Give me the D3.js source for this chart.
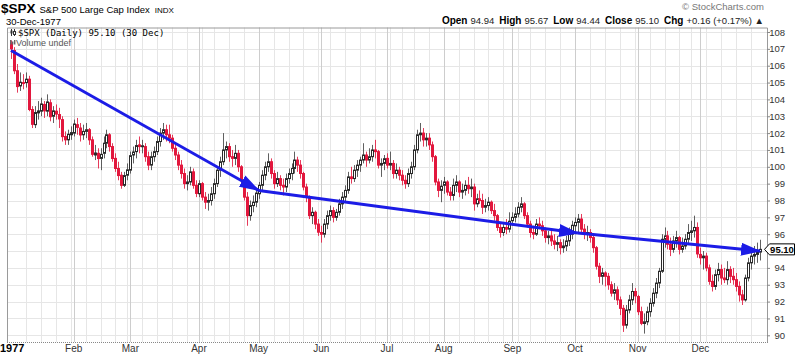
<!DOCTYPE html>
<html>
<head>
<meta charset="utf-8">
<script src="https://cdn.jsdelivr.net/npm/d3@7"></script>
<style>
  body { margin: 0; background: #fff; }
  svg { display: block; font-family: "Liberation Sans", Arial, sans-serif; }
  .y-axis text { font-size: 9.5px; fill: #333; }
  .month { font-family: "Liberation Sans Narrow", "Arial Narrow", "Liberation Sans", sans-serif; font-size: 10px; fill: #333; }
</style>
</head>
<body>
<svg id="chart" width="800" height="354"></svg>
<script>
// $SPX daily bars, 1977: [day, open, high, low, close]
const jan = [
  [3,107.3,107.5,106.4,107.0],[4,106.9,107.1,105.5,105.7],[5,105.7,106.1,104.4,104.76],
  [6,104.8,105.6,104.5,105.02],[7,105.0,105.5,104.6,104.95],[10,105.0,105.6,104.7,105.2],
  [11,105.2,105.4,103.3,103.4],[12,103.4,103.6,102.3,102.52],[13,102.5,103.6,102.3,103.22],
  [14,103.2,103.9,102.8,103.32],[17,103.3,104.1,103.0,103.73],[18,103.7,103.9,102.9,103.32],
  [19,103.3,104.3,103.0,103.85],[20,103.8,104.0,102.7,102.97],[21,103.0,103.6,102.6,103.32],
  [24,103.3,103.7,102.8,103.13],[25,103.1,103.5,102.3,102.84],[26,102.8,103.0,101.5,101.79],
  [27,101.8,102.1,101.3,101.6],[28,101.6,102.2,101.3,101.93],[31,101.9,102.4,101.6,102.03]
];
const feb = [
  [1,102.0,102.8,101.8,102.54],[2,102.5,102.9,101.9,102.34],[3,102.3,102.6,101.5,101.89],
  [4,101.9,102.5,101.6,102.1],[7,102.1,102.6,101.7,102.2],[8,102.2,102.3,101.3,101.6],
  [9,101.6,101.8,100.6,100.74],[10,100.7,101.3,100.4,100.82],[11,100.8,101.1,99.9,100.49],
  [14,100.5,101.1,99.8,100.74],[15,100.8,101.8,100.5,101.4],[16,101.4,102.2,101.1,101.9],
  [17,101.9,102.0,100.9,101.2],[18,101.2,101.4,100.3,100.49],[22,100.5,100.8,99.7,99.9],
  [23,99.9,100.3,99.2,99.48],[24,99.5,99.7,98.7,98.9],[25,98.9,99.7,98.8,99.48],
  [28,99.5,100.2,99.2,99.82]
];
const mar = [
  [1,99.8,100.9,99.6,100.66],[2,100.7,101.2,100.2,100.88],[3,100.9,101.6,100.5,101.26],
  [4,101.3,101.8,100.8,101.2],[7,101.2,101.6,100.8,101.25],[8,101.2,101.4,100.3,100.6],
  [9,100.6,100.9,99.8,100.1],[10,100.1,100.9,99.8,100.6],[11,100.6,101.2,100.3,100.9],
  [14,100.9,101.8,100.7,101.5],[15,101.5,102.3,101.2,102.0],[16,102.0,102.6,101.6,102.2],
  [17,102.2,102.5,101.5,101.9],[18,101.9,102.5,101.4,101.7],[21,101.7,101.9,100.9,101.1],
  [22,101.1,101.4,100.4,100.7],[23,100.7,100.9,99.8,100.1],[24,100.1,100.4,99.3,99.6],
  [25,99.6,99.9,98.7,99.0],[28,99.0,99.5,98.6,99.1],[29,99.1,100.0,98.9,99.7],
  [30,99.7,99.9,98.7,98.9],[31,98.9,99.2,98.2,98.42]
];
const apr = [
  [1,98.4,99.2,98.2,99.0],[4,99.0,99.1,98.0,98.2],[5,98.2,98.5,97.5,97.9],
  [6,97.9,98.4,97.4,98.0],[7,98.0,98.8,97.7,98.4],[11,98.4,99.3,98.1,99.0],
  [12,99.0,100.0,98.8,99.8],[13,99.8,100.6,99.4,100.3],[14,100.3,102.0,100.1,101.0],
  [15,101.0,101.5,100.5,101.2],[18,101.2,101.4,100.3,100.6],[19,100.6,101.0,100.0,100.5],
  [20,100.5,101.3,100.1,100.8],[21,100.8,101.0,99.7,100.0],[22,100.0,100.1,98.9,99.2],
  [25,99.2,99.3,98.0,98.2],[26,98.2,98.5,96.5,97.1],[27,97.1,98.0,96.8,97.7],
  [28,97.7,98.3,97.3,97.9],[29,97.9,98.7,97.6,98.44]
];
const may = [
  [2,98.4,99.1,98.1,98.9],[3,98.9,99.8,98.6,99.5],[4,99.5,100.3,99.2,100.0],
  [5,100.0,100.8,99.7,100.3],[6,100.3,100.5,99.3,99.6],[9,99.6,99.8,98.7,99.0],
  [10,99.0,99.7,98.8,99.3],[11,99.3,99.5,98.6,98.9],[12,98.9,99.3,98.3,98.8],
  [13,98.8,99.6,98.5,99.3],[16,99.3,99.9,99.0,99.6],[17,99.6,100.2,99.2,99.9],
  [18,99.9,100.9,99.6,100.4],[19,100.4,100.6,99.7,100.1],[20,100.1,100.4,99.3,99.6],
  [23,99.6,99.7,98.6,98.8],[24,98.8,99.0,97.9,98.2],[25,98.2,98.3,96.9,97.1],
  [26,97.1,97.6,96.6,97.3],[27,97.3,97.4,96.3,96.6],[31,96.6,96.9,95.9,96.12]
];
const jun = [
  [1,96.1,96.5,95.5,96.0],[2,96.0,96.9,95.8,96.6],[3,96.6,97.4,96.3,97.1],
  [6,97.1,97.7,96.8,97.4],[7,97.4,97.6,96.7,97.0],[8,97.0,97.5,96.8,97.3],
  [9,97.3,98.1,97.1,97.8],[10,97.8,98.5,97.5,98.2],[13,98.2,98.9,97.9,98.6],
  [14,98.6,99.7,98.4,99.4],[15,99.4,100.0,99.0,99.3],[16,99.3,100.1,99.1,99.8],
  [17,99.8,100.4,99.4,100.1],[20,100.1,100.6,99.7,100.4],[21,100.4,101.4,100.2,100.7],
  [22,100.7,100.9,100.0,100.4],[23,100.4,101.1,100.2,100.6],[24,100.6,101.3,100.3,101.0],
  [27,101.0,101.6,100.5,100.9],[28,100.9,101.0,99.9,100.1],[29,100.1,100.5,99.4,100.2],
  [30,100.2,100.7,99.8,100.48]
];
const jul = [
  [1,100.5,100.8,99.9,100.1],[5,100.1,100.9,99.8,100.2],[6,100.2,100.4,99.3,99.6],
  [7,99.6,100.2,99.3,99.8],[8,99.8,100.0,99.2,99.5],[11,99.5,99.8,98.9,99.2],
  [12,99.2,99.5,98.7,99.0],[13,99.0,99.9,98.8,99.6],[15,99.6,100.3,99.3,100.0],
  [18,100.0,101.3,99.8,101.0],[19,101.0,102.2,100.8,101.9],[20,101.9,102.6,101.5,102.0],
  [21,102.0,102.3,101.2,101.6],[22,101.6,102.0,101.2,101.7],[25,101.7,102.0,101.0,101.3],
  [26,101.3,101.5,100.3,100.6],[27,100.6,100.7,98.9,99.1],[28,99.1,99.3,98.2,98.6],
  [29,98.6,99.2,97.9,98.85]
];
const aug = [
  [1,98.9,99.4,98.4,99.1],[2,99.1,99.2,98.3,98.5],[3,98.5,98.8,98.0,98.3],
  [4,98.3,99.3,98.0,98.9],[5,98.9,99.5,98.5,99.1],[8,99.1,99.2,98.2,98.5],
  [9,98.5,99.0,98.1,98.6],[10,98.6,99.2,98.3,98.9],[11,98.9,99.4,98.4,98.7],
  [12,98.7,99.3,98.2,98.8],[15,98.8,99.0,97.4,97.8],[16,97.8,98.4,97.6,98.1],
  [17,98.1,98.6,97.8,98.0],[18,98.0,98.4,97.2,97.6],[19,97.6,98.1,97.3,97.7],
  [22,97.7,98.2,97.4,97.9],[23,97.9,98.0,97.2,97.4],[24,97.4,97.8,96.8,97.1],
  [25,97.1,97.2,96.2,96.4],[26,96.4,96.6,95.8,96.1],[29,96.1,96.7,95.9,96.4],
  [30,96.4,96.9,96.0,96.3],[31,96.3,97.3,96.1,96.77]
];
const sep = [
  [1,96.8,97.3,96.5,97.0],[2,97.0,97.6,96.7,97.2],[6,97.2,97.9,97.0,97.6],
  [7,97.6,98.2,97.3,97.8],[8,97.8,97.9,96.9,97.1],[9,97.1,97.3,96.4,96.6],
  [12,96.6,96.8,95.8,96.1],[13,96.1,96.5,95.7,96.0],[14,96.0,96.9,95.9,96.6],
  [15,96.6,97.0,96.3,96.5],[16,96.5,96.8,95.9,96.2],[19,96.2,96.4,95.5,95.8],
  [20,95.8,96.2,95.4,95.9],[21,95.9,96.3,95.3,95.6],[22,95.6,96.0,95.1,95.4],
  [23,95.4,95.9,95.0,95.5],[26,95.5,95.7,94.8,95.2],[27,95.2,95.7,94.9,95.3],
  [28,95.3,95.9,95.0,95.6],[29,95.6,96.4,95.3,96.0],[30,96.0,96.8,95.7,96.53]
];
const oct = [
  [3,96.5,97.0,96.0,96.7],[4,96.7,97.2,96.1,96.9],[5,96.9,97.2,96.0,96.3],
  [6,96.3,96.6,95.7,96.0],[7,96.0,96.5,95.6,96.1],[10,96.1,96.3,95.5,95.8],
  [11,95.8,96.0,94.9,95.2],[12,95.2,95.3,93.9,94.1],[13,94.1,94.3,93.1,93.5],
  [14,93.5,94.0,93.0,93.7],[17,93.7,93.8,92.9,93.5],[18,93.5,93.7,92.7,93.0],
  [19,93.0,93.2,92.3,92.5],[20,92.5,93.1,92.1,92.7],[21,92.7,92.9,91.8,92.1],
  [24,92.1,92.3,91.2,91.6],[25,91.6,91.8,90.2,90.6],[26,90.6,91.8,90.4,91.5],
  [27,91.5,92.4,91.3,92.1],[28,92.1,93.1,91.8,92.6],[31,92.6,92.8,91.9,92.34]
];
const nov = [
  [1,92.3,92.4,91.2,91.4],[2,91.4,91.7,90.6,90.71],[3,90.7,91.3,90.1,90.8],
  [4,90.8,91.7,90.6,91.4],[7,91.4,92.2,91.1,91.9],[8,91.9,92.8,91.7,92.5],
  [9,92.5,93.4,92.2,93.1],[10,93.1,94.0,92.8,93.8],[11,93.8,96.0,93.7,95.7],
  [14,95.7,96.4,95.2,95.9],[15,95.9,96.2,95.1,95.4],[16,95.4,95.8,94.7,95.1],
  [17,95.1,95.9,94.9,95.6],[18,95.6,96.2,95.2,95.8],[21,95.8,95.9,94.8,95.1],
  [22,95.1,95.8,94.9,95.3],[23,95.3,96.0,95.1,95.7],[25,95.7,96.6,95.4,96.1],
  [28,96.1,96.8,95.6,96.2],[29,96.2,97.1,95.8,96.4],[30,96.4,96.7,94.6,94.83]
];
const dec = [
  [1,94.8,95.2,94.2,94.6],[2,94.6,95.0,93.9,94.7],[5,94.7,94.9,93.8,94.0],
  [6,94.0,94.2,93.0,93.2],[7,93.2,93.6,92.6,92.9],[8,92.9,93.9,92.7,93.6],
  [9,93.6,94.3,93.2,93.9],[12,93.9,94.2,93.0,93.4],[13,93.4,94.0,93.1,93.3],
  [14,93.3,94.4,93.0,93.9],[15,93.9,94.1,93.1,93.5],[16,93.5,94.0,93.0,93.3],
  [19,93.3,93.7,92.6,92.9],[20,92.9,93.2,92.0,92.4],[21,92.4,92.7,91.8,92.1],
  [22,92.1,93.6,92.0,93.4],[23,93.4,94.6,93.2,94.3],[27,94.3,95.0,93.9,94.7],
  [28,94.7,95.3,94.2,94.8],[29,94.8,95.5,94.3,94.94],[30,94.94,95.67,94.44,95.10]
];

const monthLabels = ["1977", "Feb", "Mar", "Apr", "May", "Jun", "Jul", "Aug", "Sep", "Oct", "Nov", "Dec"];
const yTicks = [90, 91, 92, 93, 94, 95, 96, 97, 98, 99, 100, 101, 102, 103, 104, 105, 106, 107, 108];

// hand-drawn trend line: [date, price] at each arrow end
const trendPoints = [["1977-01-03", 106.9], ["1977-05-02", 98.6], ["1977-10-04", 96.07], ["1977-12-30", 95.0]];

const lastClose = 95.10;

const months = [jan, feb, mar, apr, may, jun, jul, aug, sep, oct, nov, dec];
const fmt = d3.timeFormat("%Y-%m-%d");

const bars = [];
months.forEach((rows, m) => rows.forEach(r => bars.push({
    date: new Date(1977, m, r[0]), open: r[1], high: r[2], low: r[3], close: r[4]
})));
bars.forEach((d, i) => { d.key = fmt(d.date); d.prev = i ? bars[i - 1].close : d.open; });

const plot = { left: 7, right: 767, top: 27.5, bottom: 342 };
const red = "#e2173d", dark = "#2a2a2a", blue = "#1c1ce6";

const svg = d3.select("#chart");

const x = d3.scalePoint()
    .domain(bars.map(d => d.key))
    .range([11, 760]);

const y = d3.scaleLinear()
    .domain([90, 108])
    .range([335.3, 32]);

const px = v => Math.round(v) + 0.5;

// grid
const grid = svg.append("g");

grid.selectAll(".hgrid")
    .data(yTicks)
    .enter().append("line")
    .attr("x1", plot.left).attr("x2", plot.right)
    .attr("y1", d => px(y(d))).attr("y2", d => px(y(d)))
    .attr("stroke", "#e6e6e6");

const weekStarts = bars.filter((d, i) => i > 0 && d.date.getDay() <= bars[i - 1].date.getDay());
const monthStarts = bars.filter((d, i) => i === 0 || d.date.getMonth() !== bars[i - 1].date.getMonth());

grid.selectAll(".wgrid")
    .data(weekStarts)
    .enter().append("line")
    .attr("x1", d => px(x(d.key))).attr("x2", d => px(x(d.key)))
    .attr("y1", plot.top).attr("y2", plot.bottom)
    .attr("stroke", "#e6e6e6");

grid.selectAll(".mgrid")
    .data(monthStarts.slice(1))
    .enter().append("line")
    .attr("x1", d => px(x(d.key))).attr("x2", d => px(x(d.key)))
    .attr("y1", plot.top).attr("y2", plot.bottom)
    .attr("stroke", "#cdcdcd");

// frame
svg.append("path")
    .attr("d", `M${plot.left + 0.5},${plot.bottom}V${plot.top + 0.5}H${plot.right + 0.5}V${plot.bottom}`)
    .attr("fill", "none")
    .attr("stroke", "#9a9a9a");
svg.append("line")
    .attr("x1", plot.left).attr("x2", plot.right + 1)
    .attr("y1", plot.bottom + 0.5).attr("y2", plot.bottom + 0.5)
    .attr("stroke", "#888")
    .attr("stroke-dasharray", "1,1");

// month labels
svg.selectAll(".month")
    .data(monthStarts)
    .enter().append("text")
    .attr("class", "month")
    .attr("x", (d, i) => i === 0 ? 0 : x(d.key))
    .attr("y", 352)
    .attr("text-anchor", (d, i) => i === 0 ? "start" : "middle")
    .style("font-weight", (d, i) => i === 0 ? "bold" : null)
    .style("font-size", (d, i) => i === 0 ? "11px" : null)
    .style("fill", (d, i) => i === 0 ? "#000" : null)
    .text((d, i) => monthLabels[i]);

// price axis (the 95 label sits under the last-price tag)
const yAxis = svg.append("g")
    .attr("class", "y-axis")
    .attr("transform", `translate(${plot.right},0)`)
    .call(d3.axisRight(y).tickValues(yTicks).tickSize(3)
        .tickFormat(d => Math.abs(d - lastClose) < 0.5 ? "" : d3.format("d")(d)));
yAxis.select(".domain").remove();
yAxis.selectAll("line").attr("stroke", "#888");
yAxis.selectAll("text").attr("x", 18).attr("text-anchor", "end");

// candles
const candles = svg.append("g")
    .selectAll(".candle")
    .data(bars)
    .enter().append("g")
    .attr("class", "candle");

candles.append("line")
    .attr("x1", d => px(x(d.key))).attr("x2", d => px(x(d.key)))
    .attr("y1", d => y(d.high)).attr("y2", d => y(d.low))
    .attr("stroke", d => d.close < d.prev ? red : "#444")
    .attr("stroke-opacity", 0.85);

candles.append("rect")
    .attr("x", d => px(x(d.key)) - 1)
    .attr("width", 2)
    .attr("y", d => y(Math.max(d.open, d.close)))
    .attr("height", d => Math.max(1, Math.abs(y(d.open) - y(d.close))))
    .attr("fill", d => d.close > d.open ? "#fff" : (d.close < d.prev ? red : dark))
    .attr("stroke", d => d.close < d.prev ? red : dark)
    .attr("stroke-width", 1);

// trend line with arrows
svg.append("defs").append("marker")
    .attr("id", "arrow")
    .attr("markerUnits", "userSpaceOnUse")
    .attr("markerWidth", 20).attr("markerHeight", 13)
    .attr("refX", 19).attr("refY", 6.5)
    .attr("orient", "auto")
    .append("path")
    .attr("d", "M0,0L20,6.5L0,13Z")
    .attr("fill", blue);

svg.selectAll(".trend")
    .data(d3.pairs(trendPoints))
    .enter().append("line")
    .attr("x1", d => x(d[0][0])).attr("y1", d => y(d[0][1]))
    .attr("x2", d => x(d[1][0])).attr("y2", d => y(d[1][1]))
    .attr("stroke", blue)
    .attr("stroke-width", 3)
    .attr("marker-end", "url(#arrow)");

// last price tag
const tagY = y(lastClose);
svg.append("path")
    .attr("d", `M764.5,${tagY}L769.5,${tagY - 5.5}H794.5V${tagY + 5.5}H769.5Z`)
    .attr("fill", "#fff")
    .attr("stroke", "#000");
svg.append("text")
    .attr("x", 782).attr("y", tagY + 3.5)
    .attr("text-anchor", "middle")
    .style("font-size", "9.5px").style("font-weight", "bold")
    .text(lastClose.toFixed(2));

// header
const head = svg.append("text").attr("x", 1).attr("y", 13);
head.append("tspan").style("font-size", "13.5px").style("font-weight", "bold").text("$SPX");
head.append("tspan").attr("dx", 4).style("font-size", "9.5px").text("S&P 500 Large Cap Index");
head.append("tspan").attr("dx", 5).style("font-size", "8px").text("INDX");

svg.append("text")
    .attr("x", 6).attr("y", 24.5)
    .style("font-size", "9.5px")
    .text("30-Dec-1977");

svg.append("text")
    .attr("x", 764).attr("y", 9.5)
    .attr("text-anchor", "end")
    .style("font-size", "9.5px").style("fill", "#777")
    .text("© StockCharts.com");

const last = bars[bars.length - 1];
const chg = last.close - last.prev;
const quote = [
    ["Open", last.open.toFixed(2)],
    ["High", last.high.toFixed(2)],
    ["Low", last.low.toFixed(2)],
    ["Close", last.close.toFixed(2)],
    ["Chg", `+${chg.toFixed(2)} (+${(chg / last.prev * 100).toFixed(2)}%) \u25B2`]
];
const qt = svg.append("text").attr("x", 764).attr("y", 23.5).attr("text-anchor", "end");
quote.forEach((q, i) => {
    qt.append("tspan").attr("dx", i ? 5 : 0).style("font-size", "10px").style("font-weight", "bold").text(q[0]);
    qt.append("tspan").attr("dx", 3).style("font-size", "9.5px").style("fill", "#222").text(q[1]);
});

// in-chart legend
const lg = svg.append("g");
lg.append("line").attr("x1", 11.5).attr("x2", 11.5).attr("y1", 29).attr("y2", 36).attr("stroke", "#333");
lg.append("rect").attr("x", 10.5).attr("y", 30.5).attr("width", 2).attr("height", 3).attr("fill", "#333");
lg.append("line").attr("x1", 14.5).attr("x2", 14.5).attr("y1", 29).attr("y2", 36).attr("stroke", "#333");
lg.append("rect").attr("x", 13.5).attr("y", 31.5).attr("width", 2).attr("height", 3).attr("fill", "#fff").attr("stroke", "#333");
lg.append("text")
    .attr("x", 18).attr("y", 35.5)
    .style("font-family", "'DejaVu Sans Mono', monospace").style("font-size", "9px")
    .text(`$SPX (Daily) ${lastClose.toFixed(2)} (30 Dec)`);
[0, 2, 4].forEach((dx, i) => lg.append("rect")
    .attr("x", 10 + dx).attr("y", 40 + (i % 2) * 1.5).attr("width", 1.4).attr("height", 4.5 - (i % 2) * 1.5)
    .attr("fill", "#666"));
lg.append("text")
    .attr("x", 16).attr("y", 45.5)
    .style("font-size", "9px").style("fill", "#555")
    .text("Volume undef");
</script>
</body>
</html>
